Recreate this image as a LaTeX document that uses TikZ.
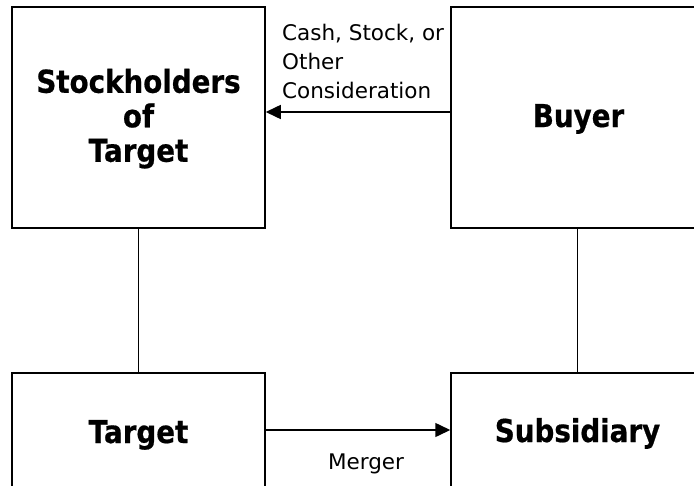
\documentclass[tikz,border=0pt]{standalone}
\usepackage{fontspec}
\setmainfont{DejaVu Sans}
\newfontfamily\boxfont[FakeStretch=0.88,BoldFeatures={FakeBold=0.6}]{DejaVu Sans}
\usetikzlibrary{arrows.meta}
\begin{document}
\begin{tikzpicture}[x=1pt,y=-1pt,
 party/.style={draw,line width=1.5pt,minimum width=253pt,minimum height=221pt,inner sep=0pt},
 partyname/.style={font=\boxfont\fontsize{31.5}{34.5}\selectfont\bfseries,align=center,inner sep=0pt},
 remark/.style={font=\fontsize{21.5}{28.7}\selectfont,align=left,inner sep=0pt},
 flow/.style={line width=1.5pt,-{Triangle[length=15pt,width=14pt]}}]
\useasboundingbox (0,0) rectangle (694,485);
\node at (138.5,117.5) [party] (holders) {};
\node at (577.5,117.5) [party] (buyer) {};
\node at (138.5,483.5) [party] (target) {};
\node at (577.5,483.5) [party] (sub) {};
\node at (138.5,118.7) [partyname] (holdersname) {Stockholders\\of\\Target};
\node at (578.5,127) [partyname,anchor=base] (buyername) {Buyer};
\node at (138.5,443) [partyname,anchor=base] (targetname) {Target};
\node at (577.5,442) [partyname,anchor=base] (subname) {Subsidiary};
\node at (282,24.4) [remark,anchor=north west] (cash) {Cash, Stock, or\\Other\\Consideration};
\node at (366,469) [remark,anchor=base] (merger) {Merger};
\draw[line width=1.5pt] (holders) -- (target);
\draw[line width=1.5pt] (buyer) -- (sub);
\draw[flow] ([yshift=5.5pt]buyer.west) -- ([yshift=5.5pt]holders.east);
\draw[flow] ([yshift=53.5pt]target.east) -- ([yshift=53.5pt]sub.west);
\end{tikzpicture}
\end{document}
